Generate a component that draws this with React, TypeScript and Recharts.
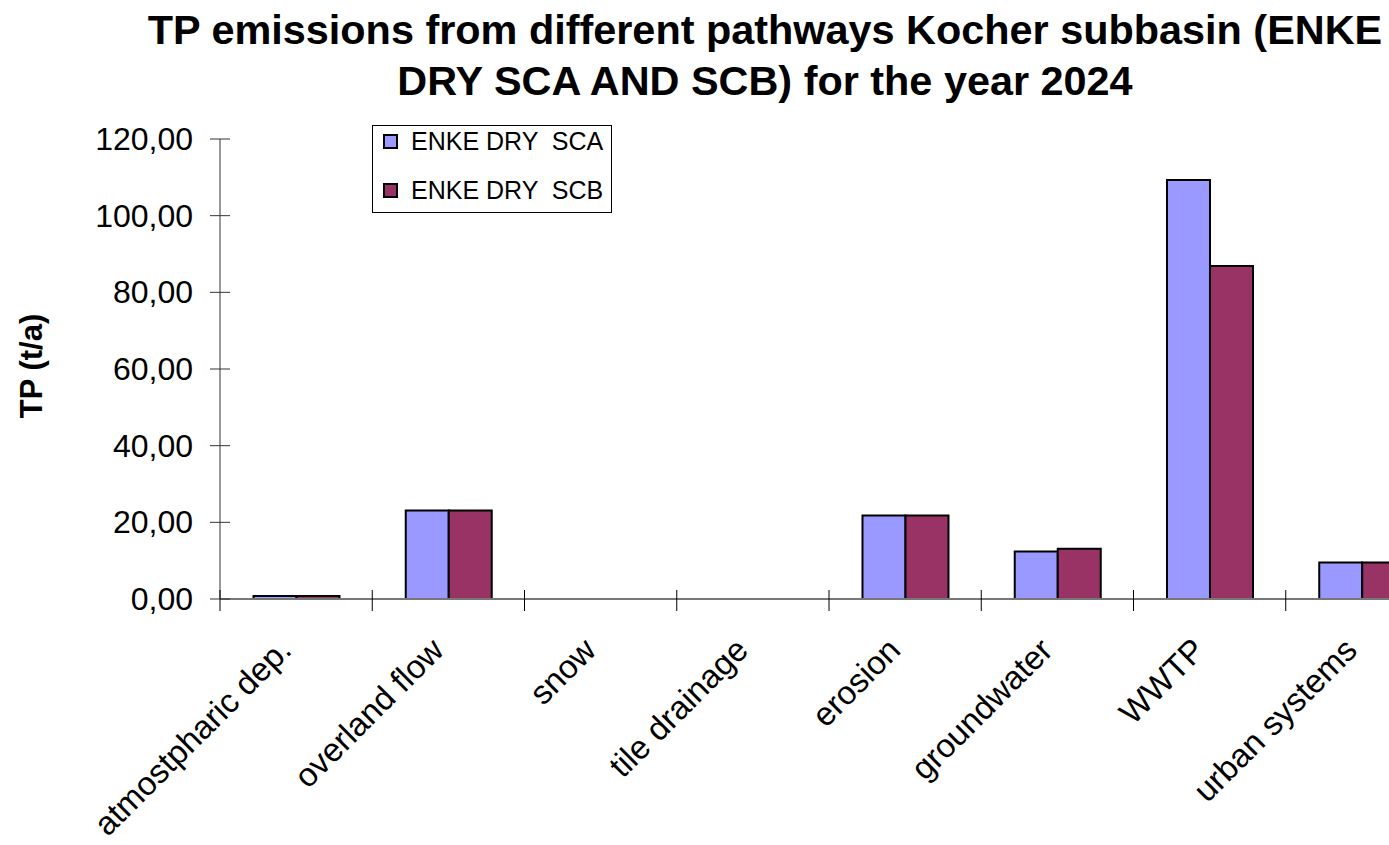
import { Bar, BarChart, Legend, XAxis, YAxis } from "recharts";

const categories = [
  "atmostpharic dep.",
  "overland flow",
  "snow",
  "tile drainage",
  "erosion",
  "groundwater",
  "WWTP",
  "urban systems",
];
const scaValues = [0.8, 23.1, 0, 0, 21.8, 12.4, 109.3, 9.5];
const scbValues = [0.8, 23.1, 0, 0, 21.8, 13.1, 86.9, 9.5];
const yTicks = [0, 20, 40, 60, 80, 100, 120];

const data = categories.map((name, i) => ({
  name,
  sca: scaValues[i],
  scb: scbValues[i],
}));

const FONT = "'Liberation Sans', Arial, sans-serif";
const W = 1460;
const H = 845;
const X_H = 30;
const M = { top: 139, right: 22, bottom: 246 - X_H, left: 0 };
const Y_W = 220;
const BASE = H - M.bottom - X_H;
const BAND = (W - M.left - M.right - Y_W) / categories.length;

function XTick(props: any) {
  const { x, payload } = props;
  const lx = x - BAND / 2;
  const tx = x - 11;
  const ty = BASE + 45;
  return (
    <g>
      <line x1={lx} x2={lx} y1={BASE - 9} y2={BASE + 12} stroke="#000" strokeWidth={1} />
      <text
        x={tx}
        y={ty}
        transform={`rotate(-45 ${tx} ${ty})`}
        textAnchor="end"
        dominantBaseline="central"
        fontSize={33}
        fontFamily={FONT}
        fill="#000"
      >
        {payload.value}
      </text>
    </g>
  );
}

function YTick(props: any) {
  const { y, payload } = props;
  const ax = Y_W + M.left;
  return (
    <g>
      <line x1={ax - 10} x2={ax + 10} y1={y} y2={y} stroke="#333" strokeWidth={1} />
      <text
        x={ax - 27}
        y={y}
        textAnchor="end"
        dominantBaseline="central"
        fontSize={32}
        fontFamily={FONT}
        fill="#000"
      >
        {payload.value.toFixed(2).replace(".", ",")}
      </text>
    </g>
  );
}

function LegendBox(props: any) {
  const items = props.payload || [];
  return (
    <div
      style={{
        position: "relative",
        border: "1px solid #000",
        background: "#fff",
        width: 238,
        height: 86,
        fontFamily: FONT,
        fontSize: 25,
      }}
    >
      {items.map((it: any, i: number) => (
        <div
          key={it.value}
          style={{
            position: "absolute",
            left: 10,
            top: i * 49,
            height: 30,
            display: "flex",
            alignItems: "center",
          }}
        >
          <span
            style={{
              width: 11,
              height: 11,
              background: it.color,
              border: "2px solid #000",
              marginRight: 13,
            }}
          />
          <span style={{ whiteSpace: "pre", color: "#000" }}>{it.value}</span>
        </div>
      ))}
    </div>
  );
}

export default function App() {
  return (
    <div
      style={{
        position: "fixed",
        left: 0,
        top: 0,
        width: 1389,
        height: 845,
        overflow: "hidden",
        background: "#fff",
      }}
    >
      <div
        style={{
          position: "absolute",
          left: 0,
          top: 5,
          width: 1530,
          textAlign: "center",
          fontFamily: FONT,
          fontWeight: "bold",
          fontSize: 41.4,
          lineHeight: "51px",
          color: "#000",
        }}
      >
        TP emissions from different pathways Kocher subbasin (ENKE
        <br />
        DRY SCA AND SCB) for the year 2024
      </div>
      <BarChart
        width={W}
        height={H}
        data={data}
        margin={M}
        barCategoryGap="22%"
        barGap={0}
      >
        <XAxis
          dataKey="name"
          height={X_H}
          interval={0}
          tick={<XTick />}
          tickLine={false}
          axisLine={{ stroke: "#777", strokeWidth: 2 }}
        />
        <YAxis
          width={Y_W}
          domain={[0, 120]}
          ticks={yTicks}
          interval={0}
          tick={<YTick />}
          tickLine={false}
          axisLine={{ stroke: "#333", strokeWidth: 1 }}
          label={{
            content: () => (
              <text
                x={31}
                y={366}
                transform="rotate(-90 31 366)"
                textAnchor="middle"
                dominantBaseline="central"
                fontSize={31}
                fontWeight="bold"
                fontFamily={FONT}
                fill="#000"
              >
                TP (t/a)
              </text>
            ),
          }}
        />
        <Legend
          layout="horizontal"
          verticalAlign="middle"
          align="center"
          content={<LegendBox />}
          wrapperStyle={{ left: 372, top: 125, width: 240, height: 88 }}
        />
        <Bar
          dataKey="sca"
          name="ENKE DRY  SCA"
          fill="#9999FF"
          stroke="#000"
          strokeWidth={2}
          isAnimationActive={false}
        />
        <Bar
          dataKey="scb"
          name="ENKE DRY  SCB"
          fill="#993366"
          stroke="#000"
          strokeWidth={2}
          isAnimationActive={false}
        />
      </BarChart>
    </div>
  );
}
